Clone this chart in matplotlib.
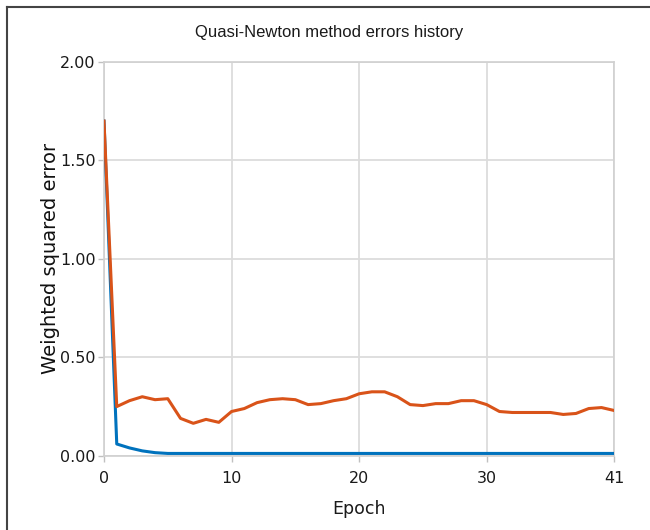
"""
Quasi-Newton method errors history (training / selection error per epoch)
"""

import matplotlib
matplotlib.use('Agg')
import matplotlib.pyplot as plt
from matplotlib.lines import Line2D

# data
epochs = list(range(41))
training_error = [1.70, 0.06, 0.04, 0.025, 0.016, 0.012, 0.012, 0.012, 0.012, 0.012,
                  0.012, 0.012, 0.012, 0.012, 0.012, 0.012, 0.012, 0.012, 0.012, 0.012,
                  0.012, 0.012, 0.012, 0.012, 0.012, 0.012, 0.012, 0.012, 0.012, 0.012,
                  0.012, 0.012, 0.012, 0.012, 0.012, 0.012, 0.012, 0.012, 0.012, 0.012,
                  0.012]
selection_error = [1.70, 0.25, 0.28, 0.30, 0.285, 0.29, 0.19, 0.165, 0.185, 0.17,
                   0.225, 0.24, 0.27, 0.285, 0.29, 0.285, 0.26, 0.265, 0.28, 0.29,
                   0.315, 0.325, 0.325, 0.30, 0.26, 0.255, 0.265, 0.265, 0.28, 0.28,
                   0.26, 0.225, 0.22, 0.22, 0.22, 0.22, 0.21, 0.215, 0.24, 0.245,
                   0.23]
x_ticks = [0, 10, 20, 30, 40]
x_tick_labels = ['0', '10', '20', '30', '41']
y_ticks = [0.0, 0.5, 1.0, 1.5, 2.0]

plt.rcParams['font.family'] = ['DejaVu Sans']

fig = plt.figure(figsize=(6.5, 5.3), dpi=100)
ax = fig.add_axes([0.16, 0.14, 0.785, 0.743])

ax.plot(epochs, training_error, color='#0072BD', linewidth=2.2, zorder=3)
ax.plot(epochs, selection_error, color='#D95319', linewidth=2.2, zorder=4)

ax.set_xlim(0, 40)
ax.set_ylim(0, 2.0)
ax.set_xticks(x_ticks)
ax.set_xticklabels(x_tick_labels)
ax.set_yticks(y_ticks)
ax.set_yticklabels([f'{v:.2f}' for v in y_ticks])

ax.grid(True, color='#dcdcdc', linewidth=1.3)
ax.set_axisbelow(True)
for s in ax.spines.values():
    s.set_color('#d0d0d0')
    s.set_linewidth(1.2)
ax.tick_params(axis='both', colors='#c0c0c0', length=4, width=1.0,
               labelsize=11.5, labelcolor='#1a1a1a')
ax.tick_params(axis='y', pad=2)
ax.tick_params(axis='x', pad=7)

ax.set_xlabel('Epoch', fontsize=12.5, color='#1a1a1a', labelpad=10)
ax.set_ylabel('Weighted squared error', fontsize=14, color='#111111', labelpad=0)

# title sits at the centre of the whole picture, not of the axes
fig.text(0.506, 0.938, 'Quasi-Newton method errors history', fontsize=12,
         color='#1a1a1a', ha='center', va='center',
         family=['Liberation Sans', 'DejaVu Sans'])

# frame lines on top and left of the picture
fig.add_artist(Line2D([7 / 650, 1.0], [1 - 7 / 530, 1 - 7 / 530],
                      transform=fig.transFigure, color='#444444', linewidth=1.5))
fig.add_artist(Line2D([7 / 650, 7 / 650], [0.0, 1 - 7 / 530],
                      transform=fig.transFigure, color='#444444', linewidth=1.5))

fig.savefig('out.png', dpi=100)
